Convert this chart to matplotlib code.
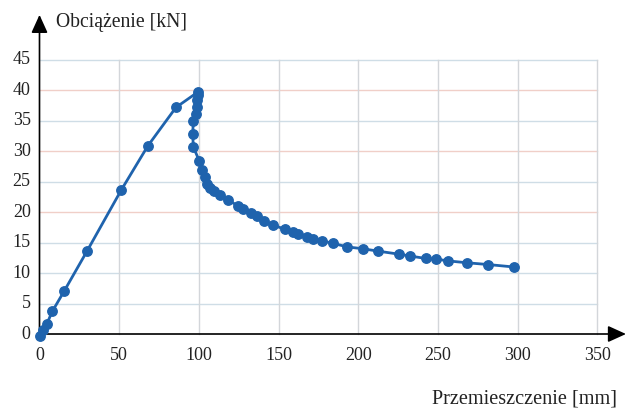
import matplotlib
matplotlib.use("Agg")
import matplotlib.pyplot as plt

# Data
displacement = [0.0, 2.4, 4.5, 8.0, 15.6, 30.0, 51.2, 68.0, 85.6, 99.2,
                99.2, 99.0, 98.6, 98.0, 96.5, 96.1, 96.5, 100.3, 101.9, 103.8,
                105.3, 107.0, 109.7, 113.2, 118.4, 124.7, 127.5, 132.5, 136.3,
                140.8, 146.3, 154.0, 159.2, 162.4, 168.0, 171.8, 177.0, 183.9,
                193.1, 202.8, 212.5, 225.7, 232.4, 242.5, 248.6, 256.5, 268.0,
                281.6, 297.7]
load = [-0.3, 0.7, 1.6, 3.7, 7.1, 13.7, 23.6, 30.9, 37.2, 39.7,
        39.2, 38.4, 37.3, 36.2, 34.9, 32.9, 30.7, 28.4, 26.9, 25.8,
        24.7, 24.0, 23.5, 22.8, 22.0, 21.0, 20.5, 19.8, 19.3,
        18.6, 17.9, 17.2, 16.7, 16.4, 15.9, 15.6, 15.3, 14.9,
        14.3, 14.0, 13.6, 13.1, 12.8, 12.4, 12.3, 12.0, 11.7,
        11.4, 11.0]

x_ticks = [0, 50, 100, 150, 200, 250, 300, 350]
y_ticks = [0, 5, 10, 15, 20, 25, 30, 35, 40, 45]
x_label = "Przemieszczenie [mm]"
y_label = "Obciążenie [kN]"

plt.rcParams['font.family'] = ['Liberation Serif', 'DejaVu Serif']

fig = plt.figure(figsize=(6.29, 4.08), dpi=100)
ax = fig.add_axes([0, 0, 1, 1])
ax.set_xlim(-24.78, 369.8)
ax.set_ylim(-12.15, 54.84)
ax.axis('off')

xmax = x_ticks[-1]
ymax = y_ticks[-1]

# grid
for yv in y_ticks[1:]:
    col = '#f0cfc8' if yv in (20, 30, 40) else '#cfdde6'
    ax.plot([0, xmax], [yv, yv], color=col, lw=1.0, zorder=1)
for xv in x_ticks[1:]:
    ax.plot([xv, xv], [0, ymax], color='#d3d6da', lw=1.0, zorder=1)

# axes with arrows
arrow = dict(arrowstyle='-|>,head_length=1.1,head_width=0.5',
             color='black', lw=1.2, shrinkA=0, shrinkB=0)
ax.annotate('', xy=(0, 52.4), xytext=(0, -0.5), arrowprops=arrow, zorder=3)
ax.annotate('', xy=(367.9, 0), xytext=(-0.3, 0), arrowprops=arrow, zorder=3)

# tick labels
for yv in y_ticks:
    ax.text(-5.5, yv, str(yv), ha='right', va='center', fontsize=13, color='#222222')
for xv in x_ticks:
    ax.text(xv, -3.6, str(xv), ha='center', va='center', fontsize=13, color='#222222')

# axis titles
ax.text(10.4, 51.1, y_label, ha='left', va='center', fontsize=14.2, color='#222222')
ax.text(362.5, -10.7, x_label, ha='right', va='center', fontsize=14.6, color='#222222')

# data
ax.plot(displacement, load, color='#1f63ad', lw=2.0, marker='o', markersize=6.8,
        markerfacecolor='#1f63ad', markeredgecolor='#1f63ad', zorder=4, clip_on=False)

fig.savefig('out.png', dpi=100)
